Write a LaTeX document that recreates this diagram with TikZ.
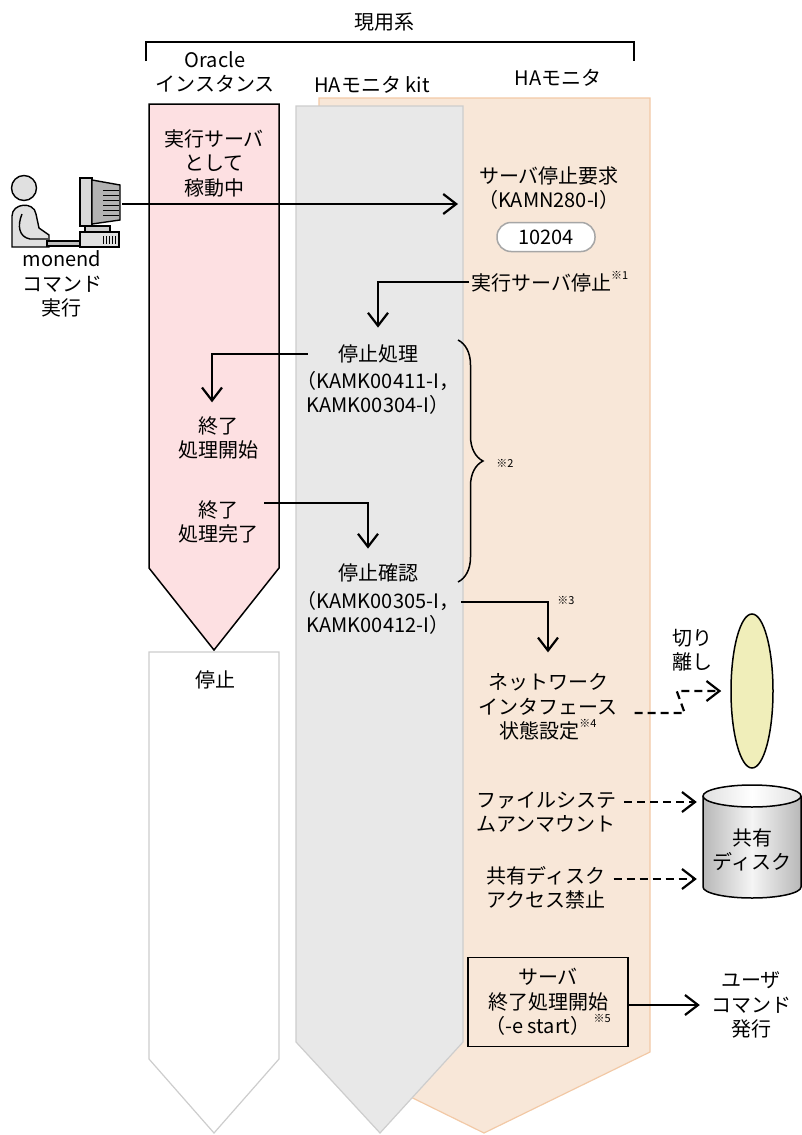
\documentclass[tikz,border=0pt]{standalone}
\usepackage{fontspec}
\setmainfont{Noto Sans CJK JP}
\usetikzlibrary{arrows.meta,shapes.geometric,decorations.pathreplacing}

\definecolor{orafill}{RGB}{253,224,226}
\definecolor{kitfill}{RGB}{232,232,232}
\definecolor{kitline}{RGB}{205,205,205}
\definecolor{monfill}{RGB}{248,231,216}
\definecolor{monline}{RGB}{242,201,166}
\definecolor{nicfill}{RGB}{240,238,186}

% small note mark after a label
\newcommand{\chu}[1]{\raisebox{0.55em}{\fontsize{11}{11}\selectfont ※#1}}

\begin{document}
\begin{tikzpicture}[x=1pt,y=-1pt]
	\tikzstyle{txt}=[align=center,inner sep=2pt,font=\fontsize{20}{24.5}\selectfont]
	\tikzstyle{note}=[inner sep=1pt,font=\fontsize{11}{11}\selectfont]
	\tikzstyle{arr}=[draw=black,line width=2.2pt,-{Straight Barb[length=13pt,width=20pt]}]
	\tikzstyle{dsh}=[arr,dash pattern=on 8pt off 5pt]

	\useasboundingbox (0,0) rectangle (802,1135);

	% the three lanes
	\path[draw=monline,fill=monfill,line width=1.2pt] (319,98) -- (650,98) -- (650,1052) -- (484,1133) -- (319,1052) -- cycle;
	\path[draw=kitline,fill=kitfill,line width=1.2pt] (296,106) -- (463,106) -- (463,1042) -- (380,1133) -- (296,1042) -- cycle;
	\path[draw=black,fill=orafill,line width=1.5pt] (149,104) -- (279,104) -- (279,568) -- (214,650) -- (149,568) -- cycle;
	\path[draw=kitline,fill=white,line width=1.2pt] (149,652) -- (279,652) -- (279,1059) -- (214,1133) -- (149,1059) -- cycle;

	% headings
	\node [txt] (sys) at (384,22) {現用系};
	\draw [line width=1.5pt] (146,61) -- (146,42) -- (634,42) -- (634,61);
	\node [txt] (ora) at (215,72) {Oracle\\インスタンス};
	\node [txt] (kit) at (372,85) {HAモニタ kit};
	\node [txt] (mon) at (558,78) {HAモニタ};

	% operator at the terminal
	\begin{scope}[line width=1.4pt]
		\filldraw[fill=black!12] (24,188) circle[radius=12.5];
		\filldraw[fill=black!12] (12,247) -- (12,216) .. controls (12,203) and (34,201) .. (36,214) -- (39,228) -- (49,235) -- (49,247) -- cycle;
		\draw (22,214) .. controls (17,226) and (19,237) .. (30,239) -- (48,239);
		\filldraw[fill=black!25] (47,241) rectangle (80,246);
		\filldraw[fill=black!15] (80,178) rectangle (92,226);
		\filldraw[fill=black!30] (92,180) -- (120,185) -- (120,220) -- (92,224) -- cycle;
		\foreach \yy in {190,195,...,215} \draw[line width=0.7pt] (103,\yy) -- (119,\yy);
		\filldraw[fill=black!20] (85,226) rectangle (110,232);
		\filldraw[fill=black!12] (80,232) rectangle (119,247);
		\foreach \xx in {103,106,...,115} \draw[line width=0.7pt] (\xx,236) -- (\xx,244);
	\end{scope}
	\coordinate (pcout) at (122,204);
	\node [txt] (cmd) at (62,284) {monend\\コマンド\\実行};

	% Oracle instance
	\node [txt] (run) at (214,163) {実行サーバ\\として\\稼動中};
	\node [txt] (endstart) at (218,438) {終了\\処理開始};
	\node [txt] (enddone) at (218,522) {終了\\処理完了};
	\node [txt] (halt) at (215,680) {停止};

	% HA monitor kit
	\node [txt] (stopproc) at (378,354) {停止処理};
	\node [txt] (stopprocmsg) at (378,393) {（KAMK00411-I，\\KAMK00304-I）};
	\node [txt] (stopchk) at (378,573) {停止確認};
	\node [txt] (stopchkmsg) at (378,613) {（KAMK00305-I，\\KAMK00412-I）};
	\draw [line width=1.5pt,decorate,decoration={brace,amplitude=25pt}] (458,340) -- (458,582);
	\node [note] (n2) at (505,463) {※2};

	% HA monitor
	\node [txt] (req) at (549,188) {サーバ停止要求\\（KAMN280-I）};
	\coordinate (reqin) at (458,204);
	\node [txt,draw=black!35,fill=white,rounded corners=14pt,line width=1.5pt,minimum width=98pt,minimum height=29pt,inner sep=0pt] (code) at (546,237) {10204};
	\node [txt,anchor=west] (stopreq) at (469,282) {実行サーバ停止\chu{1}};
	\node [note] (n3) at (566,600) {※3};
	\node [txt] (netif) at (548,707) {ネットワーク\\インタフェース\\状態設定\chu{4}};
	\node [txt] (fsum) at (546,812) {ファイルシステ\\ムアンマウント};
	\node [txt] (dskoff) at (546,888) {共有ディスク\\アクセス禁止};
	\node [txt,draw,line width=1.5pt,minimum width=160pt,minimum height=89pt] (srvend) at (548,1002) {サーバ\\終了処理開始\\（-e start）\,\chu{5}};

	% outside the node
	\node [txt,align=left] (cut) at (692,650) {切り\\離し};
	\node [ellipse,draw=black,line width=1.5pt,fill=nicfill,minimum width=42pt,minimum height=154pt] (nic) at (752,691) {};
	\shade[left color=black!28,right color=black!28,middle color=black!4] (703,796) -- (703,887) arc[start angle=180,end angle=0,x radius=49,y radius=11] -- (801,796) -- cycle;
	\shade[left color=black!12,right color=black!12,middle color=white] (752,796) ellipse[x radius=49,y radius=11];
	\draw[line width=1.5pt] (703,796) -- (703,887) arc[start angle=180,end angle=0,x radius=49,y radius=11] -- (801,796);
	\draw[line width=1.5pt] (752,796) ellipse[x radius=49,y radius=11];
	\node [txt,minimum width=98pt] (disk) at (752,850) {共有\\ディスク};
	\node [txt] (ucmd) at (751,1005) {ユーザ\\コマンド\\発行};

	% flow
	\draw [arr] (pcout) -- (reqin);
	\draw [arr,shorten >=15pt] (stopreq.west) -| (stopproc.north);
	\draw [arr,shorten >=12pt] ([xshift=-28pt]stopproc.west) -| ([xshift=-6pt]endstart.north);
	\draw [arr,shorten >=13pt] ([xshift=4pt,yshift=19pt]enddone.east) -| ([xshift=-10pt]stopchk.north);
	\coordinate (chkout) at ([yshift=11pt]stopchkmsg.east);
	\draw [arr,shorten >=19pt] (chkout) -| (netif.north);
	\coordinate (nicout) at ([xshift=15pt,yshift=-6pt]netif.east);
	\draw [dsh,shorten >=9pt] (nicout) -- ++(50,0) -- ++(-8,-22) -- (nic.west);
	\coordinate (fsout) at ([xshift=6pt,yshift=10pt]fsum.east);
	\draw [dsh,shorten >=6pt] (fsout) -- (fsout -| disk.west);
	\coordinate (dskout) at ([xshift=6pt,yshift=9pt]dskoff.east);
	\draw [dsh,shorten >=6pt] (dskout) -- (dskout -| disk.west);
	\draw [arr,shorten >=9pt] (srvend.east |- ucmd.west) -- (ucmd.west);

\end{tikzpicture}
\end{document}
